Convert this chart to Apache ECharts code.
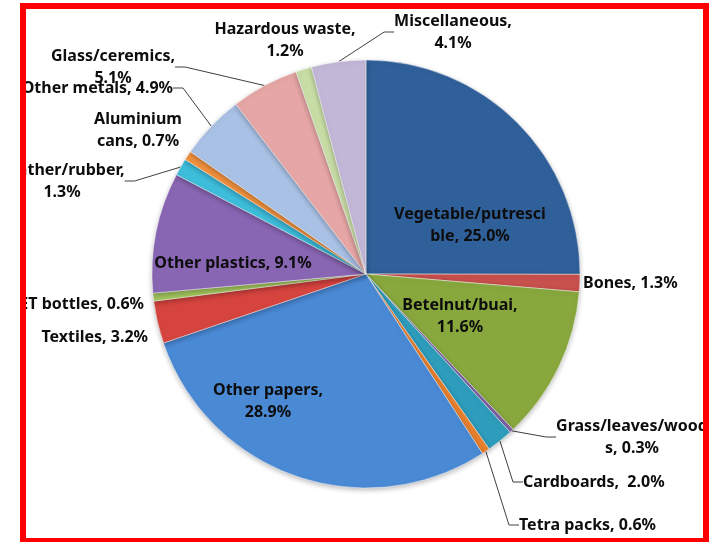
<!DOCTYPE html>
<html>
<head>
<meta charset="utf-8">
<script src="https://cdn.jsdelivr.net/npm/echarts@6/dist/echarts.min.js"></script>
<style>
  html, body { margin: 0; padding: 0; background: #fff; width: 721px; height: 542px; overflow: hidden; }
  #frame { position: absolute; left: 20px; top: 3px; width: 689px; height: 541px; border: 6px solid #ff0000; box-sizing: border-box; overflow: hidden; background: #fff; }
  #chart { width: 677px; height: 529px; }
</style>
</head>
<body>
<div id="frame"><div id="chart"></div></div>
<script>
// ---- data ----
var categories = ['Vegetable/putrescible', 'Bones', 'Betelnut/buai', 'Grass/leaves/woods', 'Cardboards',
  'Tetra packs', 'Other papers', 'Textiles', 'PET bottles', 'Other plastics', 'Leather/rubber',
  'Aluminium cans', 'Other metals', 'Glass/ceremics', 'Hazardous waste', 'Miscellaneous'];
var values = [25.0, 1.3, 11.6, 0.3, 2.0, 0.6, 28.9, 3.2, 0.6, 9.1, 1.3, 0.7, 4.9, 5.1, 1.2, 4.1];
// label text as wrapped in the original
var labelNames = ['Vegetable/putresci\nble', 'Bones', 'Betelnut/buai', 'Grass/leaves/wood\ns', 'Cardboards',
  'Tetra packs', 'Other papers', 'Textiles', 'PET bottles', 'Other plastics', 'Leather/rubber',
  'Aluminium\ncans', 'Other metals', 'Glass/ceremics', 'Hazardous waste', 'Miscellaneous'];
var labelSeps = [', ', ', ', ',\n', ', ', ',  ', ', ', ',\n', ', ', ', ', ', ', ',\n', ', ', ', ', ',\n', ',\n', ',\n'];

// ---- style ----
var colors = ['#30609A', '#C8504D', '#88A83E', '#7E62A6', '#2E9CBB', '#E9812F', '#4A89D4', '#D6443F',
  '#A3C65E', '#8966B3', '#3EBDDB', '#F2923E', '#A9C1E5', '#E5A6A5', '#C8DDA6', '#C3B7D8'];
var inside = [true, false, true, false, false, false, true, false, false, true, false, false, false, false, false, false];
var showLine = [false, false, false, true, true, true, false, false, false, false, true, false, true, true, false, true];
// label anchor positions (canvas px) and alignment
var labelPos = [
  [444, 216, 'center'], [557, 274, 'left'], [434, 307, 'center'], [606, 428, 'center'],
  [497, 473, 'left'], [493, 516, 'left'], [242, 392, 'center'], [122, 328, 'right'],
  [118, 295, 'right'], [207, 254, 'center'], [36, 172, 'center'], [112, 121, 'center'],
  [147, 79, 'right'], [87, 58, 'center'], [259, 31, 'center'], [427, 23, 'center']
];

var data = categories.map(function (c, i) {
  return {
    name: c,
    value: values[i],
    itemStyle: { color: colors[i] },
    label: { position: inside[i] ? 'inside' : 'outside' },
    labelLine: { show: showLine[i] }
  };
});

var chart = echarts.init(document.getElementById('chart'), null, { renderer: 'canvas' });
chart.setOption({
  animation: false,
  backgroundColor: '#fff',
  series: [{
    type: 'pie',
    center: [340, 265],
    radius: 214,
    startAngle: 90,
    clockwise: true,
    avoidLabelOverlap: false,
    data: data,
    itemStyle: {
      borderColor: 'rgba(255,255,255,0.45)',
      borderWidth: 1,
      shadowBlur: 5,
      shadowOffsetY: 2,
      shadowColor: 'rgba(0,0,0,0.25)'
    },
    label: {
      fontFamily: 'Noto Sans',
      fontWeight: 'bold',
      fontSize: 16,
      lineHeight: 22,
      color: '#0d0d0d',
      align: 'center',
      formatter: function (p) {
        return labelNames[p.dataIndex] + labelSeps[p.dataIndex] + p.value.toFixed(1) + '%';
      }
    },
    labelLine: {
      length: 10,
      length2: 10,
      lineStyle: { color: '#404040', width: 1 }
    },
    labelLayout: function (p) {
      var lp = labelPos[p.dataIndex];
      return { x: lp[0], y: lp[1], align: lp[2], verticalAlign: 'middle' };
    }
  }]
});
</script>
</body>
</html>
